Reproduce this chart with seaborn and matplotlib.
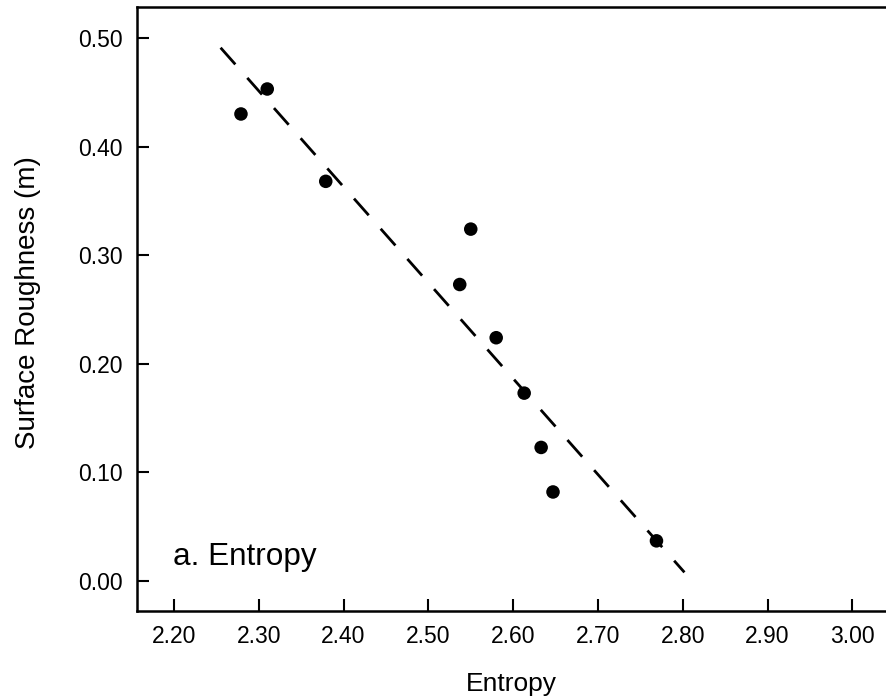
import matplotlib
matplotlib.use("Agg")
import matplotlib.pyplot as plt
import seaborn as sns
import pandas as pd

# Observed entropy vs. surface roughness
entropy = [2.279, 2.310, 2.379, 2.550, 2.537, 2.580, 2.613, 2.633, 2.647, 2.769]
roughness = [0.430, 0.453, 0.368, 0.324, 0.273, 0.224, 0.173, 0.123, 0.082, 0.037]

# Fitted trend line end points
fit_x = [2.255, 2.802]
fit_y = [0.491, 0.008]

x_ticks = [2.20, 2.30, 2.40, 2.50, 2.60, 2.70, 2.80, 2.90, 3.00]
y_ticks = [0.00, 0.10, 0.20, 0.30, 0.40, 0.50]

sns.set_theme(style="ticks")
plt.rcParams["font.family"] = ["Liberation Sans", "DejaVu Sans"]
plt.rcParams["text.color"] = "black"
plt.rcParams["axes.labelcolor"] = "black"

fig = plt.figure(figsize=(8.86, 7.0), dpi=100)
ax = fig.add_axes([137 / 886, 0.1276, (886 - 137) / 886, 0.8624])

points = pd.DataFrame({"Entropy": entropy, "Roughness": roughness})
fit = pd.DataFrame({"x": fit_x, "y": fit_y})

sns.lineplot(data=fit, x="x", y="y", ax=ax, color="black", linewidth=2.0,
             linestyle=(0, (8, 6.5)), zorder=2)
sns.scatterplot(data=points, x="Entropy", y="Roughness", ax=ax, color="black",
                s=95, edgecolor="none", zorder=3)

ax.set_xlim(2.1564, 3.0397)
ax.set_ylim(-0.0273, 0.5285)
ax.set_xticks(x_ticks)
ax.set_yticks(y_ticks)
ax.set_xticklabels([f"{v:.2f}" for v in x_ticks])
ax.set_yticklabels([f"{v:.2f}" for v in y_ticks])

ax.tick_params(direction="in", length=8.6, width=1.5, labelsize=16.5,
               colors="black", pad=10)

for name in ["left", "bottom", "top"]:
    ax.spines[name].set_linewidth(1.8)
    ax.spines[name].set_color("black")
ax.spines["right"].set_visible(False)

ax.set_xlabel("Entropy", fontsize=19, labelpad=17.5, color="black")
ax.set_ylabel("Surface Roughness (m)", fontsize=20, labelpad=27, color="black")
ax.yaxis.label.set_y(0.511)

ax.text(2.199, 0.0145, "a. Entropy", fontsize=22.7, va="baseline", ha="left",
        color="black")

fig.savefig("out.png", dpi=100)
